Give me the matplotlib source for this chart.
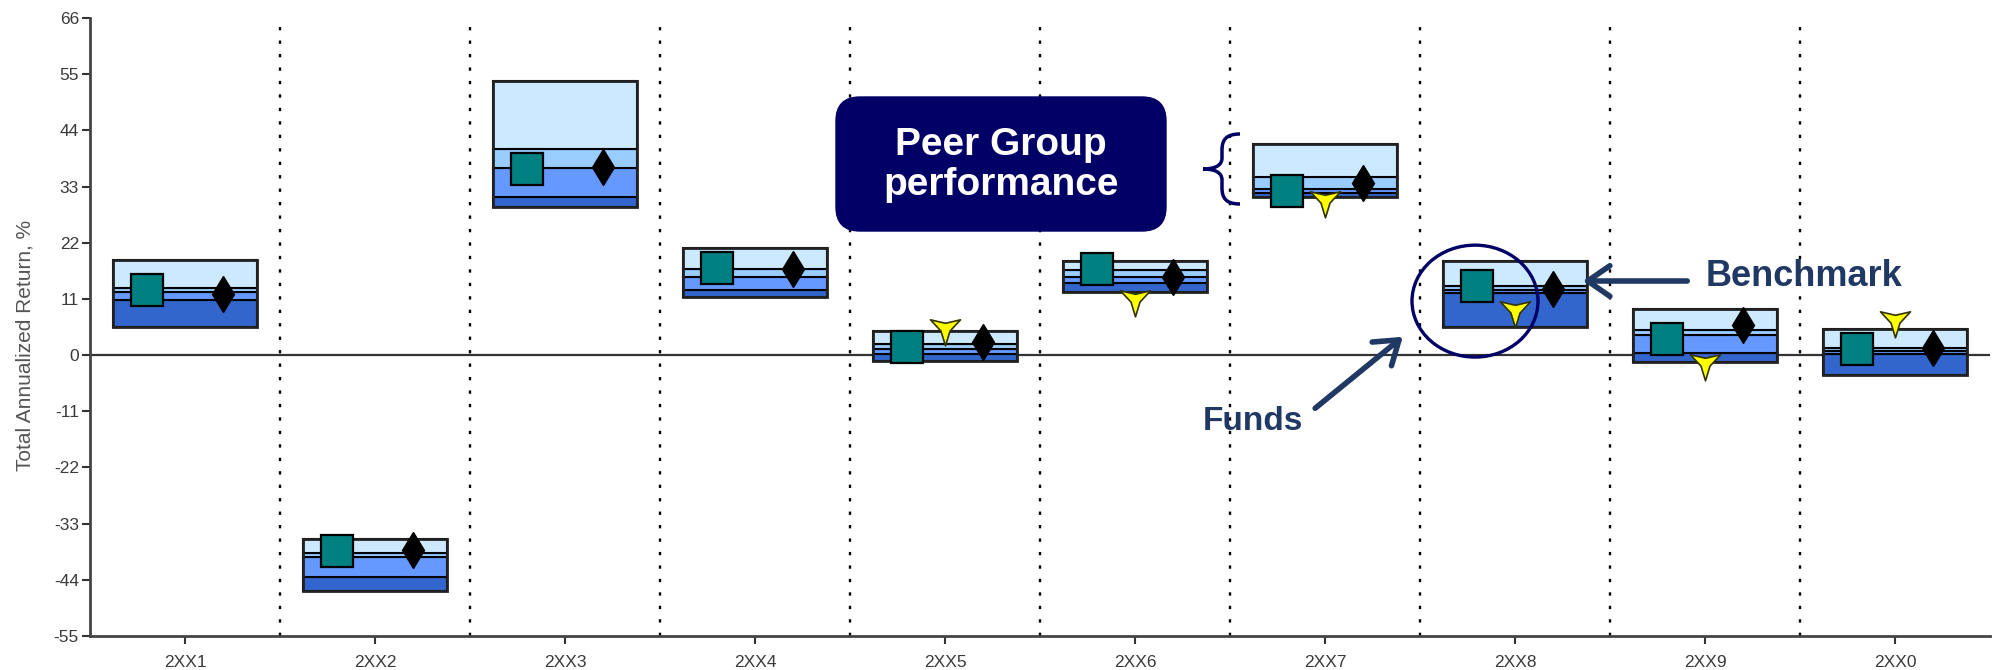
import numpy as np
import matplotlib
matplotlib.use("Agg")
import matplotlib.pyplot as plt
from matplotlib.patches import FancyBboxPatch, Ellipse, PathPatch, FancyArrowPatch
from matplotlib.path import Path
from matplotlib.transforms import IdentityTransform

plt.rcParams['font.family'] = ['Liberation Sans', 'DejaVu Sans']

# ---------------- data ----------------
years = ['2XX1', '2XX2', '2XX3', '2XX4', '2XX5', '2XX6', '2XX7', '2XX8', '2XX9', '2XX0']
pct95 = [18.6, -36.0, 53.7, 20.9, 4.75, 18.5, 41.3, 18.5, 9.1, 5.2]
pct75 = [13.2, -38.8, 40.3, 16.8, 2.1, 16.6, 34.8, 13.5, 5.0, 1.3]
pct50 = [12.3, -39.5, 36.6, 15.2, 1.1, 15.3, 32.6, 12.8, 3.9, 0.8]
pct25 = [10.8, -43.4, 30.9, 12.7, 0.2, 14.1, 31.8, 12.1, 0.5, 0.3]
pct05 = [5.5, -46.2, 29.0, 11.4, -1.1, 12.3, 30.9, 5.5, -1.4, -3.9]
fund = [12.7, -38.3, 36.4, 17.1, 1.6, 16.9, 32.1, 13.5, 3.1, 1.2]
benchmark = [11.9, -38.2, 36.8, 16.8, 2.6, 15.3, 33.6, 13.0, 5.9, 1.4]
other_fund = [np.nan, np.nan, np.nan, np.nan, 5.3, 11.0, 30.3, 8.8, -1.6, 6.8]
yticks = [-55, -44, -33, -22, -11, 0, 11, 22, 33, 44, 55, 66]

# ---------------- figure ----------------
W, H = 2002, 670
fig = plt.figure(figsize=(W / 100, H / 100), dpi=100)
ax = fig.add_axes([90 / W, 34 / H, 1900 / W, (636 - 18) / H])

x = np.arange(len(years))
bw = 0.76
band_cols = ['#3366CC', '#6699FF', '#99CCFF', '#CCE9FF']
lows = [pct05, pct25, pct50, pct75]
highs = [pct25, pct50, pct75, pct95]
for lo, hi, c in zip(lows, highs, band_cols):
    lo = np.array(lo)
    hi = np.array(hi)
    ax.bar(x, hi - lo, bottom=lo, width=bw, color=c, edgecolor='black',
           linewidth=1.5, zorder=3)
# outer frame
p05 = np.array(pct05)
p95 = np.array(pct95)
ax.bar(x, p95 - p05, bottom=p05, width=bw, fill=False, edgecolor='#222222',
       linewidth=2.0, zorder=4)

# markers
ax.plot(x - 0.2, fund, linestyle='none', marker='s', markersize=23,
        markerfacecolor='#008080', markeredgecolor='black', markeredgewidth=1.6, zorder=6)
ax.plot(x + 0.2, benchmark, linestyle='none', marker='d', markersize=18,
        markerfacecolor='black', markeredgecolor='black', zorder=6)

# yellow Y-shaped marker
ang_out = np.deg2rad([-90, 30, 150])
ang_in = np.deg2rad([-30, 90, 210])
verts = []
for ao, ai in zip(ang_out, ang_in):
    verts.append((np.cos(ao), np.sin(ao)))
    verts.append((0.3 * np.cos(ai), 0.3 * np.sin(ai)))
verts.append(verts[0])
codes = [Path.MOVETO] + [Path.LINETO] * (len(verts) - 2) + [Path.CLOSEPOLY]
ymark = Path(verts, codes)
ax.plot(x, other_fund, linestyle='none', marker=ymark, markersize=25,
        markerfacecolor='#FFFF00', markeredgecolor='#333300', markeredgewidth=1.2, zorder=7)

# separators and zero line
for s in np.arange(0.5, len(years) - 0.5, 1.0):
    ax.axvline(s, color='black', linestyle=(0, (1.4, 4.3)), linewidth=1.7, zorder=1)
ax.axhline(0, color='#333333', linewidth=1.6, zorder=2)

ax.set_xlim(-0.5, len(years) - 0.5)
ax.set_ylim(-55, 66)
ax.set_yticks(yticks)
ax.set_yticklabels([str(t) for t in yticks])
ax.set_xticks(x)
ax.set_xticklabels(years)
ax.tick_params(axis='both', direction='out', length=6, width=1.5, colors='#333333',
               labelsize=12.5, labelcolor='#3a3a3a')
ax.tick_params(axis='x', pad=8)
ax.tick_params(axis='y', pad=2)
for side in ['top', 'right']:
    ax.spines[side].set_visible(False)
for side in ['left', 'bottom']:
    ax.spines[side].set_linewidth(2)
    ax.spines[side].set_color('#444444')
ax.set_ylabel('Total Annualized Return, %', fontsize=15, color='#555555')
ax.yaxis.set_label_coords(-0.029, 0.47)

# ---------------- annotations ----------------
navy = '#000066'
dblue = '#1F3864'
box = FancyBboxPatch((836, 670 - 231), 330, 134,
                     boxstyle='round,pad=0,rounding_size=24',
                     transform=IdentityTransform(), facecolor=navy, edgecolor=navy,
                     zorder=10)
fig.patches.append(box)
fig.text(1001 / W, (670 - 165) / H, 'Peer Group\nperformance', color='white',
         fontsize=28, fontweight='bold', ha='center', va='center',
         linespacing=1.15, zorder=11)

# brace
bverts = [(1240, 536),
          (1226, 536), (1222, 530), (1222, 520),
          (1222, 512),
          (1222, 504), (1214, 501), (1203, 501),
          (1214, 501), (1222, 498), (1222, 490),
          (1222, 482),
          (1222, 472), (1226, 466), (1240, 466)]
bcodes = [Path.MOVETO,
          Path.CURVE4, Path.CURVE4, Path.CURVE4,
          Path.LINETO,
          Path.CURVE4, Path.CURVE4, Path.CURVE4,
          Path.CURVE4, Path.CURVE4, Path.CURVE4,
          Path.LINETO,
          Path.CURVE4, Path.CURVE4, Path.CURVE4]
brace = PathPatch(Path(bverts, bcodes), transform=IdentityTransform(),
                  facecolor='none', edgecolor=navy, linewidth=2.5, zorder=10)
fig.patches.append(brace)

# circle around fund box
ell = Ellipse(((1475 - 185) / 190, (355 - 301) / 5.11), 126 / 190, 112 / 5.11,
              facecolor='none', edgecolor=navy, linewidth=2.4, zorder=9)
ax.add_patch(ell)

# Benchmark arrow + text
arr1 = FancyArrowPatch((1690, 670 - 281), (1580, 670 - 281), transform=IdentityTransform(),
                       arrowstyle='->,head_length=16,head_width=11', color=dblue,
                       linewidth=4, zorder=10)
fig.patches.append(arr1)
fig.text(1706 / W, (670 - 277) / H, 'Benchmark', color=dblue, fontsize=26,
         fontweight='bold', ha='left', va='center')

# Funds arrow + text
arr2 = FancyArrowPatch((1313, 670 - 410), (1405, 670 - 335), transform=IdentityTransform(),
                       arrowstyle='->,head_length=16,head_width=11', color=dblue,
                       linewidth=4, zorder=10)
fig.patches.append(arr2)
fig.text(1203 / W, (670 - 421) / H, 'Funds', color=dblue, fontsize=24,
         fontweight='bold', ha='left', va='center')

fig.savefig('out.png', dpi=100)
